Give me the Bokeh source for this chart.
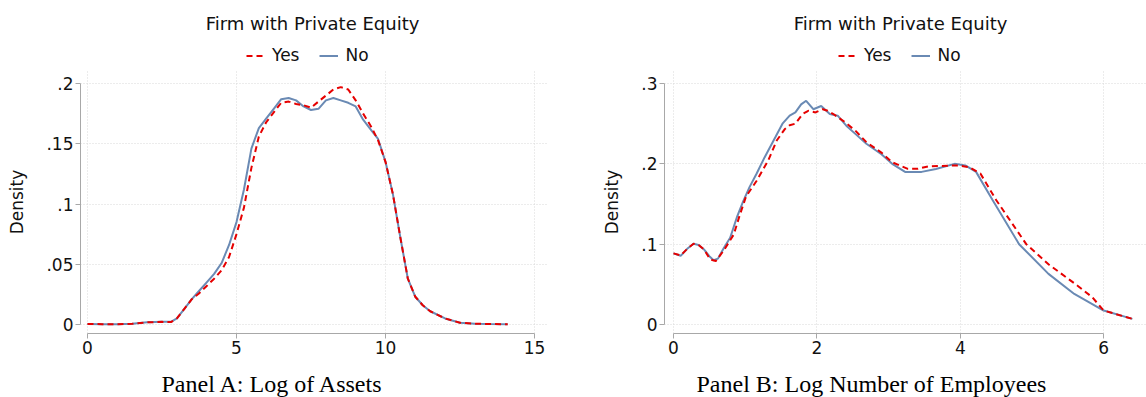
from bokeh.plotting import figure
from bokeh.layouts import row, column
from bokeh.models import Legend, LegendItem, Label, FixedTicker, CustomJSTickFormatter
from bokeh.embed import file_html
from bokeh.resources import INLINE

# ---------------- Panel A: Log of Assets ----------------
a_x = [0, 0.5, 1, 1.5, 2, 2.5, 2.8, 3.0, 3.25, 3.5, 3.75, 4, 4.25, 4.5, 4.75,
       5, 5.25, 5.5, 5.75, 6, 6.25, 6.5, 6.75, 7, 7.25, 7.5, 7.75, 8, 8.25,
       8.5, 8.75, 9, 9.25, 9.5, 9.75, 10, 10.25, 10.5, 10.75, 11, 11.25, 11.5,
       12, 12.5, 13, 13.5, 14.1]
a_no = [0.0005, 0.0003, 0.0002, 0.0006, 0.0018, 0.0022, 0.0022, 0.005, 0.013,
        0.021, 0.028, 0.035, 0.042, 0.051, 0.066, 0.085, 0.112, 0.146, 0.163,
        0.171, 0.179, 0.187, 0.188, 0.186, 0.181, 0.178, 0.179, 0.186, 0.188,
        0.186, 0.184, 0.181, 0.170, 0.162, 0.154, 0.135, 0.108, 0.072, 0.038,
        0.023, 0.016, 0.011, 0.005, 0.0015, 0.0007, 0.0004, 0.0002]
a_yes = [0.0005, 0.0003, 0.0002, 0.0006, 0.0018, 0.0022, 0.0020, 0.005, 0.013,
         0.021, 0.026, 0.032, 0.038, 0.045, 0.056, 0.075, 0.097, 0.130, 0.156,
         0.168, 0.176, 0.184, 0.185, 0.183, 0.182, 0.180, 0.185, 0.190, 0.195,
         0.197, 0.195, 0.186, 0.175, 0.165, 0.153, 0.135, 0.108, 0.072, 0.038,
         0.023, 0.016, 0.011, 0.005, 0.0015, 0.0007, 0.0004, 0.0002]
a_xticks = [0, 5, 10, 15]
a_xlabels = ["0", "5", "10", "15"]
a_yticks = [0, 0.05, 0.1, 0.15, 0.2]
a_ylabels = ["0", ".05", ".1", ".15", ".2"]

# ---------------- Panel B: Log Number of Employees ----------------
b_x_no = [0, 0.1, 0.2, 0.28, 0.35, 0.43, 0.5, 0.56, 0.62, 0.7, 0.79, 0.89, 0.97,
          1.06, 1.16, 1.27, 1.42, 1.52, 1.62, 1.7, 1.78, 1.85, 1.95, 2.06, 2.18,
          2.29, 2.41, 2.54, 2.69, 2.9, 3.05, 3.23, 3.46, 3.66, 3.92, 4.07, 4.22,
          4.45, 4.82, 5.23, 5.59, 6.0, 6.4]
b_no = [0.0885, 0.0855, 0.095, 0.1005, 0.099, 0.093, 0.085, 0.080, 0.082, 0.095,
        0.108, 0.135, 0.153, 0.171, 0.188, 0.208, 0.233, 0.250, 0.260, 0.264,
        0.274, 0.2785, 0.268, 0.272, 0.262, 0.260, 0.2475, 0.237, 0.225, 0.212,
        0.200, 0.190, 0.190, 0.1936, 0.200, 0.198, 0.190, 0.155, 0.100, 0.063,
        0.038, 0.0174, 0.007]
b_x_yes = [0, 0.1, 0.2, 0.28, 0.35, 0.43, 0.51, 0.59, 0.7, 0.84, 0.92, 1.01, 1.16,
           1.32, 1.44, 1.55, 1.62, 1.7, 1.8, 1.88, 1.98, 2.08, 2.15, 2.23, 2.39,
           2.54, 2.69, 2.9, 3.05, 3.26, 3.41, 3.56, 3.97, 4.12, 4.28, 4.5, 4.92,
           5.23, 5.64, 5.84, 6.0, 6.4]
b_yes = [0.0885, 0.086, 0.095, 0.1005, 0.099, 0.093, 0.081, 0.079, 0.092, 0.112,
         0.135, 0.159, 0.179, 0.204, 0.229, 0.243, 0.248, 0.250, 0.262, 0.266,
         0.264, 0.268, 0.266, 0.262, 0.252, 0.241, 0.227, 0.214, 0.202, 0.194,
         0.194, 0.197, 0.198, 0.196, 0.188, 0.155, 0.100, 0.075, 0.048, 0.034,
         0.0174, 0.007]
b_xticks = [0, 2, 4, 6]
b_xlabels = ["0", "2", "4", "6"]
b_yticks = [0, 0.1, 0.2, 0.3]
b_ylabels = ["0", ".1", ".2", ".3"]

legend_title = "Firm with Private Equity"
series_names = ["Yes", "No"]
captions = ["Panel A: Log of Assets", "Panel B: Log Number of Employees"]

RED = "#e60000"
BLUE = "#6a8ab4"
SANS = "DejaVu Sans"
SERIF = "Liberation Serif"
TXT = "#111111"
NAN = float("nan")

fmt_code = """
let best = 0;
for (let i = 0; i < tk.length; i++) {
  if (Math.abs(tk[i] - tick) < Math.abs(tk[best] - tick)) best = i;
}
return lb[best];
"""

W = 573
HEAD_H = 70
MAIN_H = 291
FOOT_H = 36


def blank(height):
    f = figure(width=W, height=height, x_range=(0, 1), y_range=(0, 1),
               output_backend="svg", toolbar_location=None,
               x_axis_location=None, y_axis_location=None,
               min_border_left=0, min_border_right=0,
               min_border_top=0, min_border_bottom=0)
    f.outline_line_color = None
    f.grid.visible = False
    return f


def make_head(title_x, legend_x):
    h = blank(HEAD_H)
    d_yes = h.line([NAN, NAN], [NAN, NAN], line_color=RED, line_width=2, line_dash="6 4")
    d_no = h.line([NAN, NAN], [NAN, NAN], line_color=BLUE, line_width=2)
    legend = Legend(items=[LegendItem(label=series_names[0], renderers=[d_yes]),
                           LegendItem(label=series_names[1], renderers=[d_no])],
                    orientation="horizontal", location=(legend_x, 5),
                    margin=0, padding=0, spacing=20, label_standoff=7,
                    glyph_width=19, glyph_height=17, label_height=20,
                    label_text_font=SANS, label_text_font_size="17px",
                    label_text_color=TXT,
                    border_line_color=None, background_fill_alpha=0)
    h.add_layout(legend, "center")
    h.add_layout(Label(x=title_x, y=HEAD_H - 23, x_units="screen", y_units="screen",
                       text=legend_title, text_align="center", text_baseline="middle",
                       text_font=SANS, text_font_size="18px", text_color=TXT))
    return h


def make_foot(text, x):
    f = blank(FOOT_H)
    f.add_layout(Label(x=x, y=14, x_units="screen", y_units="screen",
                       text=text, text_align="left", text_baseline="middle",
                       text_font=SERIF, text_font_size="24px", text_color="#000000"))
    return f


def make_panel(xs_yes, ys_yes, xs_no, ys_no, xticks, xlabels, yticks, ylabels,
               x_range, y_range, mb_left, mb_right):
    p = figure(width=W, height=MAIN_H, x_range=x_range, y_range=y_range,
               output_backend="svg", toolbar_location=None,
               min_border_left=mb_left, min_border_right=mb_right,
               min_border_top=0, min_border_bottom=28)
    p.outline_line_color = None
    p.background_fill_color = "white"

    p.line(xs_no, ys_no, line_color=BLUE, line_width=2)
    p.line(xs_yes, ys_yes, line_color=RED, line_width=2, line_dash="6 4")

    for ax, ticks, labels in ((p.xaxis[0], xticks, xlabels), (p.yaxis[0], yticks, ylabels)):
        ax.ticker = FixedTicker(ticks=ticks)
        ax.formatter = CustomJSTickFormatter(args=dict(tk=ticks, lb=labels), code=fmt_code)
        ax.bounds = (ticks[0], ticks[-1])
        ax.axis_line_color = "#a8a8a8"
        ax.major_tick_line_color = "#a8a8a8"
        ax.major_tick_out = 5
        ax.major_tick_in = 0
        ax.minor_tick_line_color = None
        ax.major_label_text_font = SANS
        ax.major_label_text_font_size = "17px"
        ax.major_label_text_color = TXT
        ax.major_label_standoff = 2

    p.yaxis.major_label_orientation = "horizontal"
    p.yaxis.axis_label = "Density"
    p.yaxis.axis_label_text_font = SANS
    p.yaxis.axis_label_text_font_size = "17px"
    p.yaxis.axis_label_text_font_style = "normal"
    p.yaxis.axis_label_text_color = TXT
    p.yaxis.axis_label_standoff = 16

    for g in (p.xgrid[0], p.ygrid[0]):
        g.grid_line_color = "#d9d9d9"
        g.grid_line_dash = "1 2"
        g.grid_line_width = 1
    return p


# Panel A column: x 0..573, frame 80..548
ha = make_head(232, 166)
pa = make_panel(a_x, a_yes, a_x, a_no, a_xticks, a_xlabels, a_yticks, a_ylabels,
                (-0.235, 15.47), (-0.00747, 0.2108), 80, 25)
fa = make_foot(captions[0], 81)

# Panel B column: x 573..1146, frame 664..1146
hb = make_head(236, 174)
pb = make_panel(b_x_yes, b_yes, b_x_no, b_no, b_xticks, b_xlabels, b_yticks, b_ylabels,
                (-0.1255, 6.597), (-0.0112, 0.3162), 91, 0)
fb = make_foot(captions[1], 32)

layout = row(column(ha, pa, fa, spacing=0), column(hb, pb, fb, spacing=0), spacing=0)
open("out.html", "w").write(file_html(layout, INLINE))
